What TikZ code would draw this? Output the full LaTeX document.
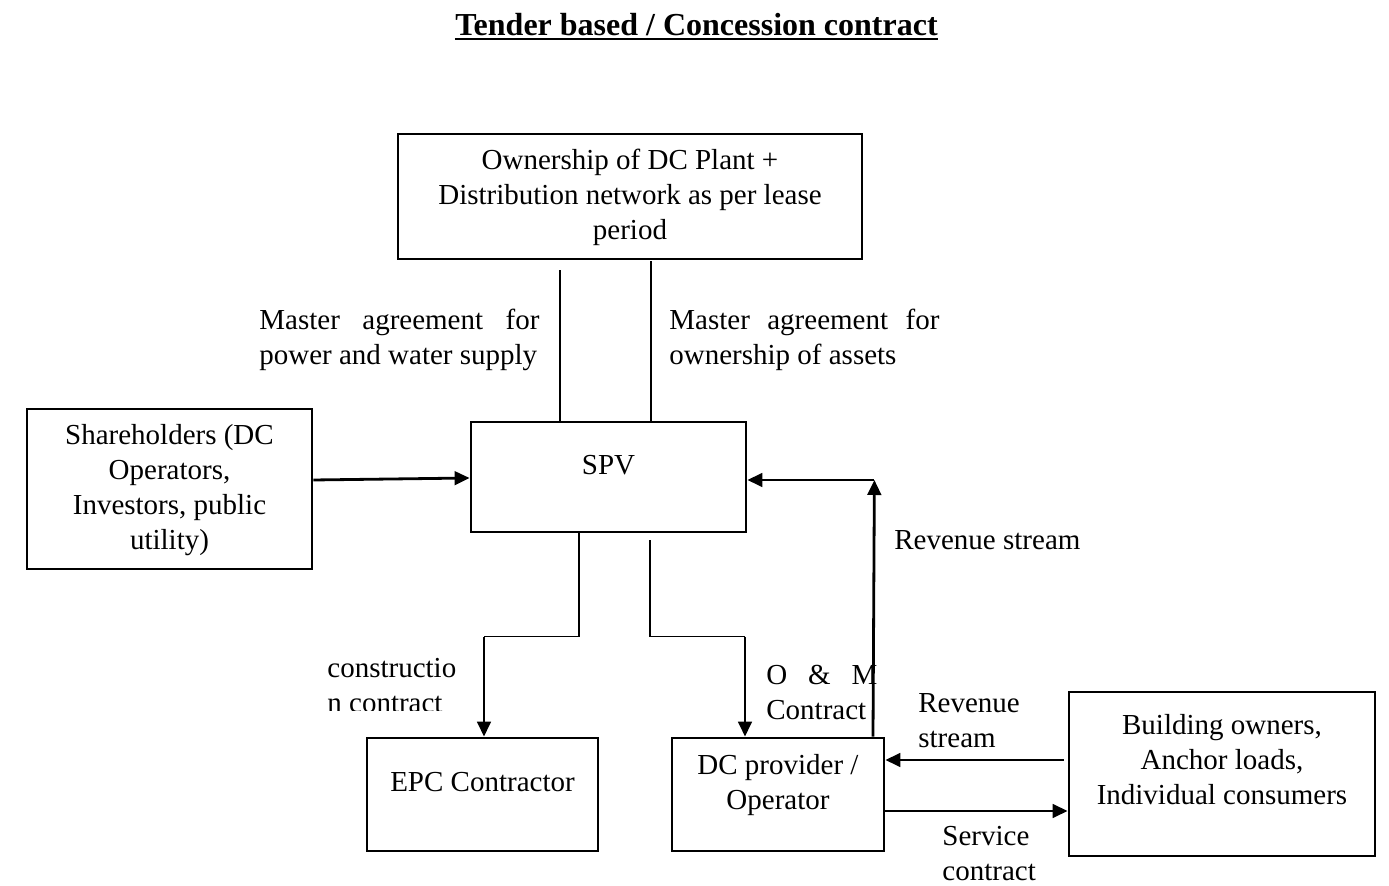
\documentclass[tikz,border=0pt]{standalone}
\usepackage{fontspec}
\setmainfont{Liberation Serif}
\usetikzlibrary{arrows.meta,calc}
% stacked lines whose baseline is the baseline of the first line
\newcommand{\cbox}[2]{\parbox[t]{#1}{\centering #2}}
\newcommand{\lbox}[2]{\parbox[t]{#1}{\raggedright #2}}
\begin{document}
\begin{tikzpicture}[x=0.5pt,y=-0.5pt,
  font=\fontsize{14.5}{17.4}\selectfont,
  box/.style={draw,line width=1.4pt,inner sep=0},
  txt/.style={inner sep=0,anchor=base},
  ltxt/.style={inner sep=0,anchor=base west},
  arr/.style={line width=1.4pt,-{Triangle[length=7.5pt,width=6.8pt]}},
  thinline/.style={line width=0.65pt}]
\useasboundingbox (0,0) rectangle (1389,886);

% heading
\node[txt] (title) at (696.5,36) {\fontsize{16}{19}\selectfont\bfseries Tender based / Concession contract};
\draw[line width=1pt] ($(title.base west)+(0,3.5)$) -- ($(title.base east)+(0,3.5)$);

% boxes
\node[box,minimum width=232pt,minimum height=62.5pt] (own) at (630,196.5) {};
\node[box,minimum width=137.5pt,minimum height=55pt] (spv) at (608.5,477) {};
\node[box,minimum width=142.5pt,minimum height=80pt] (share) at (169.5,489) {};
\node[box,minimum width=115.5pt,minimum height=56.5pt] (epc) at (482.5,794.5) {};
\node[box,minimum width=106pt,minimum height=56.5pt] (dc) at (778,794.5) {};
\node[box,minimum width=153pt,minimum height=82pt] (bld) at (1222,774) {};

% box texts
\node[txt] (ownt) at (630,170) {\cbox{230pt}{Ownership of DC Plant +\\Distribution network as per lease\\period}};
\node[txt] (spvt) at (608.5,474.5) {SPV};
\node[txt] (sharet) at (169.5,445) {\cbox{140pt}{Shareholders (DC\\Operators,\\Investors, public\\utility)}};
\node[txt] (epct) at (482.5,792) {EPC Contractor};
\node[txt] (dct) at (778,775) {\cbox{104pt}{DC provider /\\Operator}};
\node[txt] (bldt) at (1222,735) {\cbox{150pt}{Building owners,\\Anchor loads,\\Individual consumers}};

% agreement lines between the lease owner and the SPV
\draw[thinline] ($(own.south)+(-70,10)$) -- ($(spv.north)+(-48.5,0)$);
\draw[thinline] ($(own.south)+(21,1)$) -- ($(spv.north)+(42.5,0)$);
\node[ltxt] (mleft) at (259,330) {\lbox{140pt}{\noindent\hbox to 140pt{Master\hfill agreement\hfill for}\\power and water supply}};
\node[ltxt] (mright) at (669,330) {\lbox{135pt}{\noindent\hbox to 135pt{Master\hfill agreement\hfill for}\\ownership of assets}};

% equity
\draw[arr] ($(share.east)+(0,-9)$) -- ($(spv.west)+(0,1)$);

% contracts from the SPV
\coordinate (bendL) at ($(epc.north)+(1.5,-100)$);
\draw[thinline] ($(spv.south)+(-29.5,0)$) |- (bendL);
\draw[arr] (bendL) -- (bendL |- epc.north);
\coordinate (bendR) at ($(dc.north)+(-33,-100)$);
\draw[thinline] ($(spv.south)+(41.5,7)$) |- (bendR);
\draw[arr] (bendR) -- (bendR |- dc.north);
\begin{scope}
  \clip (300,640) rectangle (470,710.5);
  \node[ltxt] (cons) at (327,678) {\lbox{80pt}{constructio\\n contract}};
\end{scope}
\node[ltxt] (om) at (766,685) {\lbox{60pt}{\noindent\hbox to 55.5pt{O\hfill\&\hfill M}\\Contract}};

% revenue to the SPV
\coordinate (revc) at ($(spv.east)+(127,3)$);
\draw[arr] ($(dc.north)+(95,0)$) -- (revc);
\draw[arr] (revc) -- (spv.east |- revc);
\node[ltxt] (rev1) at (894,550) {Revenue stream};

% consumers and the operator
\draw[arr] ($(bld.west)+(-4,-14)$) -- ($(dc.east)+(0,-34.5)$);
\draw[arr] ($(dc.east)+(0,16.5)$) -- ($(bld.west)+(0,37)$);
\node[ltxt] (rev2) at (918,713) {\lbox{60pt}{Revenue\\stream}};
\node[ltxt] (svc) at (942,846) {\lbox{60pt}{Service\\contract}};
\end{tikzpicture}
\end{document}
